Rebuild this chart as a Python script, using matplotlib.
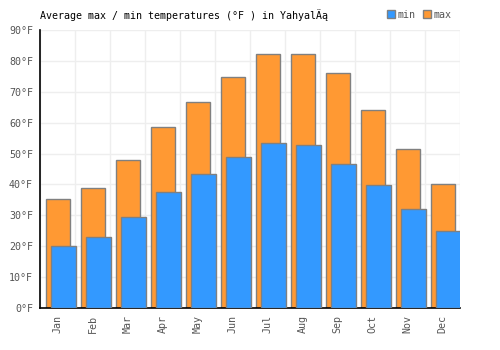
import numpy as np
import matplotlib.pyplot as plt
from matplotlib.patches import Patch

# monthly averages (°F)
months = ['Jan', 'Feb', 'Mar', 'Apr', 'May', 'Jun', 'Jul', 'Aug', 'Sep', 'Oct', 'Nov', 'Dec']
t_max = [35.3, 38.8, 47.9, 58.6, 66.7, 74.8, 82.2, 82.2, 76.0, 64.1, 51.5, 40.1]
t_min = [20.1, 23.0, 29.4, 37.5, 43.4, 48.9, 53.4, 52.8, 46.6, 39.8, 32.0, 24.9]

plt.rcParams['font.family'] = 'DejaVu Sans Mono'
plt.rcParams['font.size'] = 7.2

fig = plt.figure(figsize=(5, 3.5), dpi=100)
ax = fig.add_axes([0.08, 0.12, 0.84, 0.794])

x = np.arange(len(months))
orange = '#ff9933'
blue = '#3399ff'
ax.bar(x + 0.014, t_max, width=0.686, color=orange, edgecolor='#808080', linewidth=1, zorder=2)
ax.bar(x + 0.171, t_min, width=0.714, color=blue, edgecolor='#808080', linewidth=1, zorder=3)

ax.set_xlim(-0.5, 11.5)
ax.set_ylim(0, 90)
ax.set_xticks(x)
ax.set_xticklabels(months, rotation=90, color='#555555')
ax.set_yticks(range(0, 91, 10))
ax.set_yticklabels([str(v) + '°F' for v in range(0, 91, 10)], color='#555555')
ax.set_xticks(np.arange(-0.5, 12, 1), minor=True)
ax.tick_params(which='both', length=0, pad=5)
ax.grid(True, which='minor', axis='x', color='#eeeeee', linewidth=1, zorder=0)
ax.grid(True, which='major', axis='y', color='#eeeeee', linewidth=1, zorder=0)
ax.set_axisbelow(True)
for s in ['top', 'right']:
    ax.spines[s].set_visible(False)
ax.spines['left'].set_linewidth(1.2)
ax.spines['bottom'].set_linewidth(1.2)

fig.text(0.08, 0.958, 'Average max / min temperatures (°F ) in YahyalÄą', ha='left', va='center')

handles = [Patch(facecolor=blue, edgecolor='#808080', label='min'),
           Patch(facecolor=orange, edgecolor='#808080', label='max')]
leg = fig.legend(handles=handles, loc='center right', bbox_to_anchor=(0.912, 0.958), ncol=2,
                 frameon=False, handlelength=0.8, handleheight=0.8, handletextpad=0.2,
                 columnspacing=0.8, borderpad=0)
for t in leg.get_texts():
    t.set_color('#555555')

fig.savefig('out.png', dpi=100)
